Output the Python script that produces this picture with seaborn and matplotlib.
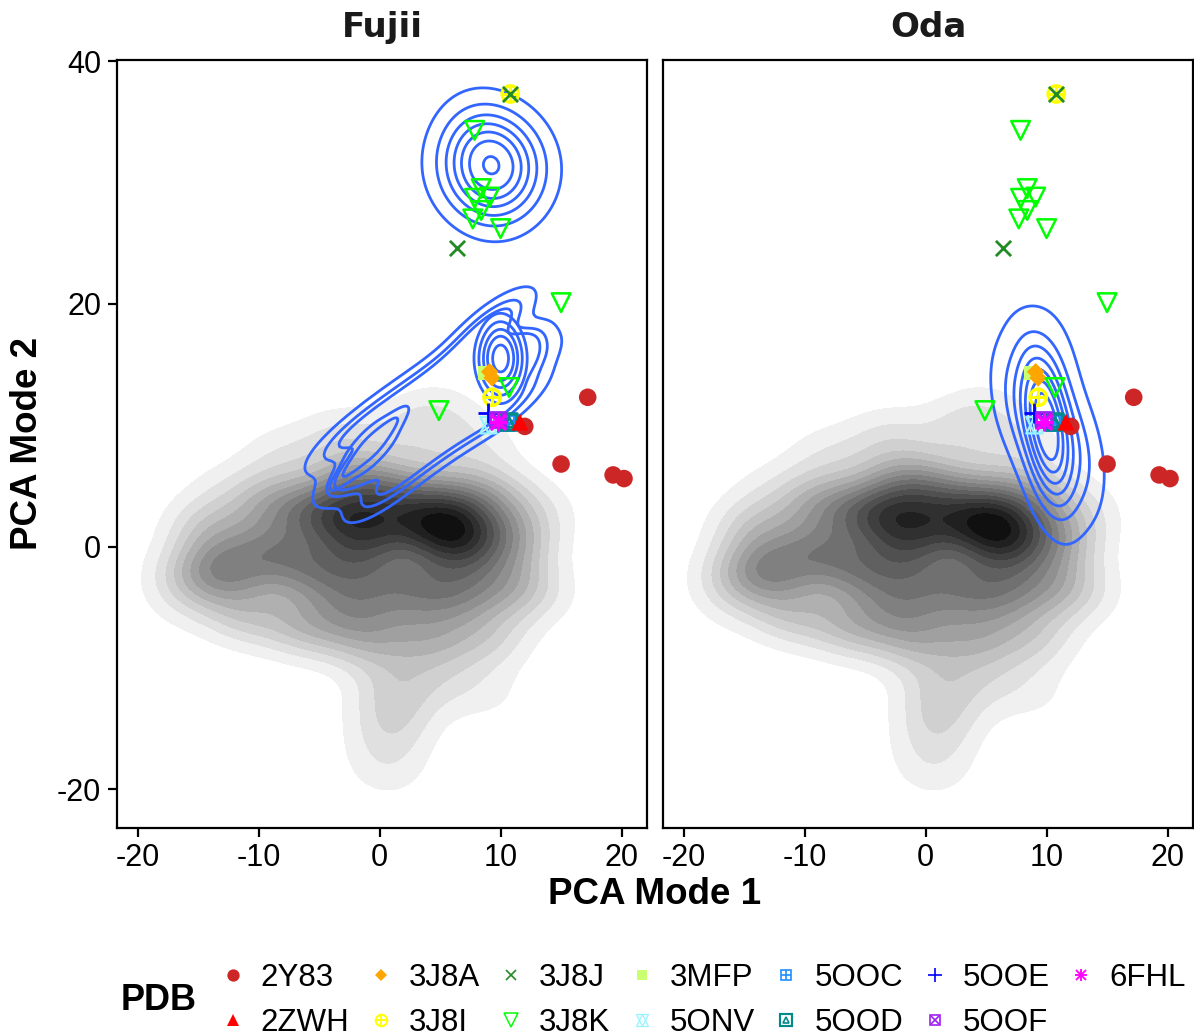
import numpy as np
import pandas as pd
import seaborn as sns
import matplotlib.pyplot as plt
from matplotlib.colors import LinearSegmentedColormap
from matplotlib.lines import Line2D
from matplotlib.legend_handler import HandlerTuple

try:
    from scipy.stats import gaussian_kde
except ImportError:
    from seaborn.external.kde import gaussian_kde

# ---------------- data ----------------
# background density anchors (x, y, weight) read off the grey cloud
bg_x = [5.6, 3.2, 7.8, 5.5, 6.0,
        -3.0, -0.3, -5.5, -2.0, 1.2, -1.5,
        9.0, 11.0, 10.5, 6.5, 2.5, -2.0, -5.5,
        -9.0, -12.8, -15.5, -14.0, -9.0,
        -11.0, -6.0, -1.0, 4.0, 9.0, 13.0, 13.0,
        1.5, 1.0, 0.5, 6.0, 9.5, 0.8,
        -3.0, 3.0, 8.0, -8.0, -13.0, 5.0, -16.5]
bg_y = [1.5, 2.0, 0.8, 4.0, -1.0,
        2.3, 1.5, 2.8, 5.2, 4.5, -1.0,
        4.0, 0.5, -3.0, -4.0, -3.5, -4.5, -2.0,
        -0.5, -2.0, -2.5, 1.5, 3.5,
        -5.5, -6.5, -7.5, -7.5, -7.5, -4.0, 3.0,
        -11.5, -14.5, -17.5, -11.0, -12.5, -19.5,
        9.0, 9.5, 8.5, 7.5, 5.0, 11.5, -5.0]
bg_w = [4.8, 3.5, 3, 3, 3,
        4, 3.8, 3.5, 3.5, 3.3, 4,
        2.8, 2.8, 2.8, 3.5, 4, 3.5, 4,
        4, 4, 2, 2.5, 3,
        2.5, 3, 3, 3, 2, 1, 1,
        2, 1.8, 1.0, 1, 0.6, 0.4,
        1.5, 1.5, 1.2, 1.2, 0.6, 0.8, 0.5]

# Fujii: upper cluster
fu_up_x = [9.3, 7.8, 10.8, 7.6, 11.0, 9.3, 6.2, 12.4, 8.5]
fu_up_y = [31.5, 33.3, 33.2, 29.8, 29.8, 28.6, 31.2, 31.5, 35.0]
fu_up_w = [3, 1.5, 1.2, 1.2, 1.2, 1, 0.6, 0.6, 0.5]
# Fujii: middle mode
fu_mid_x = [10.0, 10.0, 10.0, 8.7, 11.3]
fu_mid_y = [15.5, 13.3, 17.7, 15.5, 15.5]
fu_mid_w = [3, 1, 1, 1, 1]
# Fujii: left ridge mode
fu_rdg_x = [-3.0, -1.5, 0.0, 1.2, -2.16, -0.84, -0.66, 0.66]
fu_rdg_y = [5.8, 7.4, 9.0, 10.3, 8.0, 6.8, 9.6, 8.4]
fu_rdg_w = [1, 1, 1, 1, 0.6, 0.6, 0.6, 0.6]
# Fujii: whole lower structure (envelope)
fu_env_x = [-1.5, 1.2, 4.2, 7.2, 9.6,
            -3.1, 0.1, -0.4, 2.8, 2.6, 5.8, 5.6, 8.8,
            8.2, 11.6, 9.3, 11.0]
fu_env_y = [6.5, 8.7, 10.8, 12.8, 14.8,
            8.5, 4.5, 10.7, 6.7, 12.8, 8.8, 14.8, 10.8,
            16.5, 14.5, 18.5, 12.0]
fu_env_w = [1.5, 1.5, 1.5, 1.5, 3,
            0.7, 0.7, 0.7, 0.7, 0.7, 0.7, 0.7, 0.7,
            0.8, 0.8, 1.0, 0.6]

# Oda structure
oda_x = [10.0, 10.1, 9.9, 10.3, 9.8, 7.4, 12.7, 8.2, 12.2, 11.0]
oda_y = [9.8, 7.4, 12.2, 5.6, 14.0, 11.6, 8.3, 14.3, 5.8, 15.8]
oda_w = [3, 2, 2, 1, 1, 1.0, 1.0, 0.5, 0.5, 0.4]

# PDB structures
pdb_id = ["2Y83", "2Y83", "2Y83", "2Y83", "2Y83",
          "2ZWH",
          "3J8A", "3J8A",
          "3J8I", "3J8I",
          "3J8J", "3J8J",
          "3J8K", "3J8K", "3J8K", "3J8K", "3J8K", "3J8K", "3J8K", "3J8K", "3J8K", "3J8K",
          "3MFP", "5ONV", "5OOC", "5OOD", "5OOE", "5OOF", "6FHL"]
pdb_x = [12.0, 17.2, 15.0, 19.3, 20.2,
         11.6,
         9.1, 9.3,
         9.3, 10.8,
         10.8, 6.4,
         7.85, 8.4, 7.85, 9.1, 8.4, 7.7, 10.0, 15.0, 10.7, 4.9,
         8.75, 9.0, 10.5, 10.7, 9.0, 9.75, 9.8]
pdb_y = [9.9, 12.3, 6.8, 5.9, 5.6,
         10.25,
         14.4, 13.9,
         12.3, 37.3,
         37.3, 24.6,
         34.3, 29.5, 28.7, 28.8, 27.7, 27.0, 26.2, 20.1, 13.1, 11.2,
         14.3, 10.0, 10.2, 10.25, 11.0, 10.5, 10.3]

pdb_df = pd.DataFrame({"PDB": pdb_id, "x": pdb_x, "y": pdb_y})
pdb_order = ["2Y83", "2ZWH", "3J8A", "3J8I", "3J8J", "3J8K", "3MFP",
             "5ONV", "5OOC", "5OOD", "5OOE", "5OOF", "6FHL"]
draw_order = ["3MFP", "3J8A", "5ONV", "5OOC", "5OOD", "2Y83", "2ZWH", "3J8I",
              "3J8J", "3J8K", "5OOE", "5OOF", "6FHL"]
panels = ["Fujii", "Oda"]
x_ticks = [-20, -10, 0, 10, 20]
y_ticks = [-20, 0, 20, 40]

# ---------------- styles ----------------
pdb_color = {"2Y83": "#CD2626", "2ZWH": "#FF0000", "3J8A": "#FFA500", "3J8I": "#FFFF00",
             "3J8J": "#228B22", "3J8K": "#00FF00", "3MFP": "#CAFF70", "5ONV": "#98F5FF",
             "5OOC": "#1E90FF", "5OOD": "#008B8B", "5OOE": "#0000FF", "5OOF": "#A020F0",
             "6FHL": "#FF00FF"}
pdb_layers = {
    "2Y83": [("o", True, 160, 0)],
    "2ZWH": [("^", True, 150, 0)],
    "3J8A": [("D", True, 80, 0)],
    "3J8I": [("o", False, 140, 2.4), ("+", False, 140, 2.2)],
    "3J8J": [("x", False, 120, 2.0)],
    "3J8K": [("v", False, 180, 1.8)],
    "3MFP": [("s", True, 110, 0)],
    "5ONV": [("^", False, 140, 1.6), ("v", False, 140, 1.6)],
    "5OOC": [("s", False, 120, 2.0), ("+", False, 120, 2.0)],
    "5OOD": [("s", False, 130, 2.6), ("^", False, 50, 2.0)],
    "5OOE": [("+", False, 220, 2.0)],
    "5OOF": [("s", False, 120, 2.0), ("x", False, 85, 2.0)],
    "6FHL": [("+", False, 170, 2.2), ("x", False, 120, 2.2)],
}

W, H = 1194, 1036
sns.set_style("white")
plt.rcParams["font.family"] = ["Liberation Sans", "DejaVu Sans"]
plt.rcParams["axes.unicode_minus"] = False
plt.rcParams["text.color"] = "black"
plt.rcParams["xtick.color"] = "black"
plt.rcParams["ytick.color"] = "black"
fig = plt.figure(figsize=(W / 100, H / 100), dpi=100)

blue = "#3366FF"
LW = 2.0
BG_BW = 0.36
N_BANDS = 15


def density_even_props(x, y, w, bw, n_bands):
    """iso-proportions matching evenly spaced density breaks (ggplot-like)"""
    kde = gaussian_kde(np.vstack([x, y]), bw_method=bw, weights=w)
    gx, gy = np.meshgrid(np.linspace(-45, 45, 300), np.linspace(-45, 45, 300))
    d = kde(np.vstack([gx.ravel(), gy.ravel()]))
    total = d.sum()
    fmax = d.max()
    props = []
    for k in range(1, n_bands + 1):
        f = fmax * k / (n_bands + 1)
        props.append(d[d < f].sum() / total)
    props.append(1.0)
    return props


bg_levels = density_even_props(bg_x, bg_y, bg_w, BG_BW, N_BANDS)
grey_cmap = LinearSegmentedColormap.from_list("greys", ["#F0F0F0", "#101010"])
bg_colors = [grey_cmap(v) for v in np.linspace(0, 1, N_BANDS)]


def px_rect(x0, y0, x1, y1):
    return [x0 / W, 1 - y1 / H, (x1 - x0) / W, (y1 - y0) / H]


def contour(ax, x, y, w, levels, bw):
    sns.kdeplot(x=x, y=y, weights=w, levels=levels, color=blue, linewidths=LW,
                bw_method=bw, gridsize=160, cut=5, ax=ax, zorder=2)


axes = [fig.add_axes(px_rect(117, 60, 647, 828)),
        fig.add_axes(px_rect(663, 60, 1193, 828))]

for i, (ax, name) in enumerate(zip(axes, panels)):
    sns.kdeplot(x=bg_x, y=bg_y, weights=bg_w, fill=True, levels=bg_levels,
                color="#808080", colors=bg_colors, bw_method=BG_BW, gridsize=200,
                cut=4, ax=ax, zorder=1)
    if name == "Fujii":
        contour(ax, fu_up_x, fu_up_y, fu_up_w,
                [0.1, 0.24, 0.38, 0.52, 0.66, 0.8, 0.97], 1.35)
        contour(ax, fu_env_x, fu_env_y, fu_env_w, [0.04, 0.12, 0.21], 0.46)
        contour(ax, fu_mid_x, fu_mid_y, fu_mid_w,
                [0.3, 0.45, 0.6, 0.75, 0.9], 1.5)
        contour(ax, fu_rdg_x, fu_rdg_y, fu_rdg_w, [0.25, 0.6], 0.8)
    else:
        contour(ax, oda_x, oda_y, oda_w,
                [0.05, 0.18, 0.31, 0.44, 0.57, 0.70, 0.83], 1.0)

    for pid in draw_order:
        sub = pdb_df[pdb_df["PDB"] == pid]
        c = pdb_color[pid]
        for (m, filled, s, lw) in pdb_layers[pid]:
            if filled:
                sns.scatterplot(data=sub, x="x", y="y", marker=m, s=s, color=c,
                                edgecolor="none", linewidth=0, ax=ax, zorder=5,
                                legend=False)
            elif m in ("o", "s", "^", "v", "D"):
                sns.scatterplot(data=sub, x="x", y="y", marker=m, s=s,
                                facecolors="none", edgecolor=c, linewidth=lw,
                                ax=ax, zorder=5, legend=False)
            else:
                sns.scatterplot(data=sub, x="x", y="y", marker=m, s=s, color=c,
                                linewidth=lw, ax=ax, zorder=5, legend=False)

    ax.set_xlim(-21.7, 22.1)
    ax.set_ylim(-23.2, 40.1)
    ax.set_xticks(x_ticks)
    ax.set_yticks(y_ticks)
    ax.set_xlabel("")
    ax.set_ylabel("")
    for sp in ax.spines.values():
        sp.set_visible(True)
        sp.set_color("black")
        sp.set_linewidth(1.6)
    ax.tick_params(axis="x", length=6.5, width=1.6, pad=4, labelsize=22,
                   colors="black", direction="out", bottom=True)
    if i == 0:
        ax.tick_params(axis="y", length=6.5, width=1.6, pad=5, labelsize=22,
                       colors="black", direction="out", left=True)
    else:
        ax.tick_params(axis="y", left=False, labelleft=False)
    ax.text(0.5, 1 + 16 / 768, name, transform=ax.transAxes, ha="center",
            va="bottom", fontsize=24.5, fontweight="bold", color="#1A1A1A",
            family="DejaVu Sans")

fig.text(655 / W, 1 - 894 / H, "PCA Mode 1", ha="center", va="center",
         fontsize=26.5, fontweight="bold", color="black")
fig.text(28 / W, 1 - 443 / H, "PCA Mode 2", ha="center", va="center",
         rotation=90, fontsize=26.5, fontweight="bold", color="black")

# legend
handles = []
for pid in pdb_order:
    c = pdb_color[pid]
    parts = []
    for (m, filled, s, lw) in pdb_layers[pid]:
        ms = np.sqrt(s) * 0.7
        if filled:
            parts.append(Line2D([], [], ls="none", marker=m, markersize=ms,
                                color=c, markeredgewidth=0))
        elif m in ("o", "s", "^", "v", "D"):
            parts.append(Line2D([], [], ls="none", marker=m, markersize=ms,
                                markerfacecolor="none", markeredgecolor=c,
                                markeredgewidth=lw * 0.6))
        else:
            parts.append(Line2D([], [], ls="none", marker=m, markersize=ms,
                                color=c, markeredgewidth=lw * 0.6))
    handles.append(tuple(parts) if len(parts) > 1 else parts[0])

leg = fig.legend(handles, pdb_order, ncol=7, loc="upper left",
                 bbox_to_anchor=(220 / W, 1 - 963 / H), frameon=False,
                 fontsize=22.5, handlelength=0.8, handletextpad=0.5,
                 columnspacing=0.6, labelspacing=0.48, borderpad=0,
                 borderaxespad=0, handler_map={tuple: HandlerTuple(ndivide=1)})
fig.text(121 / W, 1 - 1000 / H, "PDB", ha="left", va="center",
         fontsize=26, fontweight="bold", color="black")

fig.savefig("out.png", dpi=100)
